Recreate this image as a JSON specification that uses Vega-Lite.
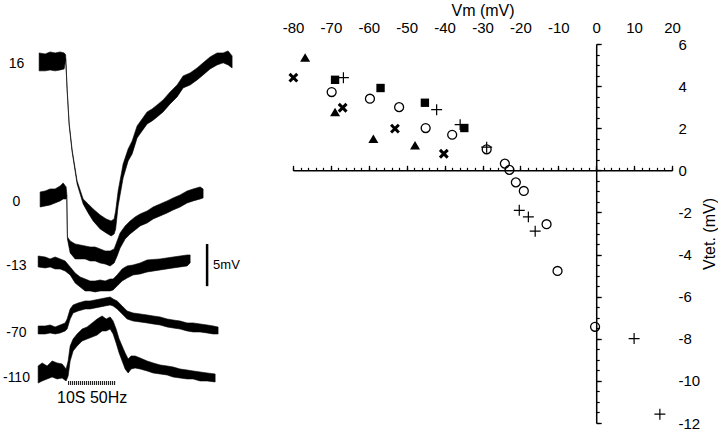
{
"$schema":"https://vega.github.io/schema/vega-lite/v6.json",
"padding":{"left":0,"top":2,"right":0,"bottom":0},
"bounds":"flush",
"spacing":43,
"config":{"view":{"stroke":null},"font":"Liberation Sans","axis":{"grid":false,"domainColor":"black","tickColor":"black","labelColor":"black","titleColor":"black"}},
"datasets":{
"traces":[
{"trace":"16","t":-6.17,"v":41.81,"v2":43.94},{"trace":"16","t":-4.89,"v":41.81,"v2":43.82},{"trace":"16","t":-3.83,"v":41.92,"v2":44.06},{"trace":"16","t":-2.77,"v":41.81,"v2":43.94},{"trace":"16","t":-1.70,"v":41.92,"v2":44.06},{"trace":"16","t":-0.85,"v":42.04,"v2":43.94},{"trace":"16","t":-0.53,"v":43.23,"v2":43.71},{"trace":"16","t":-0.21,"v":39.43,"v2":39.67},{"trace":"16","t":0.21,"v":35.39,"v2":35.63},{"trace":"16","t":0.85,"v":32.19,"v2":32.42},{"trace":"16","t":1.91,"v":28.38,"v2":28.74},{"trace":"16","t":3.19,"v":26.01,"v2":26.60},{"trace":"16","t":4.26,"v":24.94,"v2":26.01},{"trace":"16","t":5.32,"v":23.99,"v2":25.42},{"trace":"16","t":6.81,"v":23.04,"v2":24.70},{"trace":"16","t":8.09,"v":22.57,"v2":24.23},{"trace":"16","t":9.15,"v":22.21,"v2":23.99},{"trace":"16","t":9.79,"v":22.45,"v2":24.23},{"trace":"16","t":10.11,"v":23.04,"v2":25.18},{"trace":"16","t":10.64,"v":25.77,"v2":27.55},{"trace":"16","t":11.70,"v":29.10,"v2":30.76},{"trace":"16","t":12.77,"v":31.12,"v2":32.54},{"trace":"16","t":13.62,"v":31.95,"v2":33.49},{"trace":"16","t":14.68,"v":33.85,"v2":35.27},{"trace":"16","t":15.74,"v":34.68,"v2":36.10},{"trace":"16","t":16.81,"v":35.51,"v2":36.94},{"trace":"16","t":17.87,"v":35.87,"v2":37.29},{"trace":"16","t":18.94,"v":36.34,"v2":37.77},{"trace":"16","t":20.21,"v":36.94,"v2":38.36},{"trace":"16","t":21.70,"v":37.89,"v2":39.31},{"trace":"16","t":23.19,"v":38.72,"v2":40.14},{"trace":"16","t":24.47,"v":39.79,"v2":41.21},{"trace":"16","t":25.96,"v":40.14,"v2":41.57},{"trace":"16","t":27.45,"v":40.74,"v2":42.16},{"trace":"16","t":28.72,"v":41.33,"v2":42.76},{"trace":"16","t":30.21,"v":42.04,"v2":43.47},{"trace":"16","t":31.70,"v":42.52,"v2":43.94},{"trace":"16","t":32.98,"v":42.76,"v2":43.94},{"trace":"16","t":34.04,"v":42.52,"v2":44.18},{"trace":"16","t":34.89,"v":42.16,"v2":43.59},
{"trace":"0","t":-5.96,"v":25.65,"v2":27.43},{"trace":"0","t":-4.89,"v":25.77,"v2":27.55},{"trace":"0","t":-3.83,"v":25.89,"v2":27.79},{"trace":"0","t":-2.77,"v":26.13,"v2":27.79},{"trace":"0","t":-1.70,"v":26.37,"v2":28.15},{"trace":"0","t":-1.06,"v":26.60,"v2":28.50},{"trace":"0","t":-0.43,"v":26.60,"v2":28.03},{"trace":"0","t":-0.30,"v":27.08,"v2":27.32},{"trace":"0","t":-0.15,"v":21.85,"v2":22.09},{"trace":"0","t":0.43,"v":20.19,"v2":21.62},{"trace":"0","t":1.49,"v":19.48,"v2":21.26},{"trace":"0","t":2.55,"v":19.48,"v2":21.14},{"trace":"0","t":3.62,"v":19.48,"v2":21.02},{"trace":"0","t":4.68,"v":19.24,"v2":20.90},{"trace":"0","t":5.74,"v":19.24,"v2":20.90},{"trace":"0","t":6.81,"v":19.00,"v2":20.67},{"trace":"0","t":7.87,"v":18.88,"v2":20.43},{"trace":"0","t":8.94,"v":18.65,"v2":20.43},{"trace":"0","t":9.79,"v":19.00,"v2":20.67},{"trace":"0","t":10.43,"v":19.83,"v2":21.62},{"trace":"0","t":11.06,"v":20.78,"v2":22.57},{"trace":"0","t":12.13,"v":21.85,"v2":23.40},{"trace":"0","t":13.19,"v":22.45,"v2":23.99},{"trace":"0","t":14.26,"v":22.92,"v2":24.47},{"trace":"0","t":15.32,"v":23.40,"v2":24.82},{"trace":"0","t":16.81,"v":23.75,"v2":25.18},{"trace":"0","t":18.09,"v":24.23,"v2":25.65},{"trace":"0","t":19.57,"v":24.58,"v2":26.01},{"trace":"0","t":21.06,"v":24.94,"v2":26.37},{"trace":"0","t":22.34,"v":25.30,"v2":26.72},{"trace":"0","t":23.83,"v":25.65,"v2":27.08},{"trace":"0","t":25.32,"v":26.13,"v2":27.55},{"trace":"0","t":26.60,"v":26.37,"v2":27.79},{"trace":"0","t":28.09,"v":26.60,"v2":28.03},{"trace":"0","t":28.72,"v":26.72,"v2":27.79},
{"trace":"-13","t":-6.38,"v":18.53,"v2":19.83},{"trace":"-13","t":-4.89,"v":18.41,"v2":19.71},{"trace":"-13","t":-3.83,"v":18.53,"v2":19.48},{"trace":"-13","t":-2.77,"v":18.29,"v2":19.71},{"trace":"-13","t":-1.70,"v":18.29,"v2":19.48},{"trace":"-13","t":-0.64,"v":18.05,"v2":19.24},{"trace":"-13","t":0.43,"v":17.58,"v2":18.53},{"trace":"-13","t":1.49,"v":16.63,"v2":17.81},{"trace":"-13","t":2.55,"v":16.15,"v2":17.34},{"trace":"-13","t":3.62,"v":15.68,"v2":17.10},{"trace":"-13","t":4.68,"v":15.68,"v2":16.86},{"trace":"-13","t":5.74,"v":15.56,"v2":16.86},{"trace":"-13","t":6.81,"v":15.68,"v2":16.98},{"trace":"-13","t":7.87,"v":15.68,"v2":16.86},{"trace":"-13","t":8.94,"v":15.68,"v2":17.10},{"trace":"-13","t":9.57,"v":15.80,"v2":17.10},{"trace":"-13","t":10.43,"v":16.27,"v2":17.58},{"trace":"-13","t":11.49,"v":16.86,"v2":18.29},{"trace":"-13","t":12.55,"v":17.22,"v2":18.65},{"trace":"-13","t":13.83,"v":17.58,"v2":18.76},{"trace":"-13","t":15.32,"v":17.70,"v2":19.00},{"trace":"-13","t":16.81,"v":17.93,"v2":19.36},{"trace":"-13","t":19.57,"v":18.17,"v2":19.48},{"trace":"-13","t":22.34,"v":18.41,"v2":19.71},{"trace":"-13","t":25.32,"v":18.65,"v2":19.95},{"trace":"-13","t":25.96,"v":19.00,"v2":19.95},
{"trace":"-70","t":-6.38,"v":10.57,"v2":11.52},{"trace":"-70","t":-4.89,"v":10.57,"v2":11.52},{"trace":"-70","t":-3.83,"v":10.69,"v2":11.64},{"trace":"-70","t":-2.77,"v":10.57,"v2":11.40},{"trace":"-70","t":-1.70,"v":10.69,"v2":11.64},{"trace":"-70","t":-0.64,"v":10.93,"v2":11.88},{"trace":"-70","t":-0.21,"v":11.16,"v2":12.35},{"trace":"-70","t":0.43,"v":12.35,"v2":13.54},{"trace":"-70","t":1.06,"v":13.06,"v2":14.01},{"trace":"-70","t":2.13,"v":13.30,"v2":14.25},{"trace":"-70","t":3.62,"v":13.54,"v2":14.49},{"trace":"-70","t":4.68,"v":13.54,"v2":14.49},{"trace":"-70","t":5.74,"v":13.66,"v2":14.61},{"trace":"-70","t":6.81,"v":13.78,"v2":14.73},{"trace":"-70","t":7.87,"v":13.90,"v2":14.85},{"trace":"-70","t":8.94,"v":14.01,"v2":14.96},{"trace":"-70","t":9.57,"v":13.90,"v2":14.73},{"trace":"-70","t":10.43,"v":13.54,"v2":14.49},{"trace":"-70","t":11.49,"v":12.95,"v2":13.90},{"trace":"-70","t":12.55,"v":12.35,"v2":13.30},{"trace":"-70","t":13.83,"v":12.11,"v2":13.06},{"trace":"-70","t":15.32,"v":12.00,"v2":12.95},{"trace":"-70","t":16.81,"v":11.88,"v2":12.83},{"trace":"-70","t":18.09,"v":11.76,"v2":12.71},{"trace":"-70","t":19.57,"v":11.64,"v2":12.59},{"trace":"-70","t":21.06,"v":11.40,"v2":12.35},{"trace":"-70","t":22.34,"v":11.28,"v2":12.23},{"trace":"-70","t":23.83,"v":11.16,"v2":12.11},{"trace":"-70","t":25.32,"v":10.93,"v2":11.88},{"trace":"-70","t":26.60,"v":10.81,"v2":11.88},{"trace":"-70","t":28.09,"v":10.81,"v2":11.76},{"trace":"-70","t":29.57,"v":10.69,"v2":11.64},{"trace":"-70","t":30.85,"v":10.57,"v2":11.52},{"trace":"-70","t":31.91,"v":10.57,"v2":11.40},
{"trace":"-110","t":-6.38,"v":4.75,"v2":6.77},{"trace":"-110","t":-5.53,"v":4.99,"v2":7.13},{"trace":"-110","t":-4.47,"v":5.23,"v2":6.77},{"trace":"-110","t":-3.40,"v":5.46,"v2":7.36},{"trace":"-110","t":-2.34,"v":5.23,"v2":7.13},{"trace":"-110","t":-1.28,"v":5.34,"v2":7.01},{"trace":"-110","t":-0.43,"v":4.99,"v2":6.41},{"trace":"-110","t":0,"v":5.58,"v2":7.36},{"trace":"-110","t":0.43,"v":7.36,"v2":9.14},{"trace":"-110","t":1.06,"v":8.55,"v2":9.98},{"trace":"-110","t":1.91,"v":9.14,"v2":10.57},{"trace":"-110","t":2.98,"v":9.74,"v2":11.16},{"trace":"-110","t":4.04,"v":9.98,"v2":11.40},{"trace":"-110","t":5.11,"v":10.21,"v2":11.88},{"trace":"-110","t":6.17,"v":10.45,"v2":12.35},{"trace":"-110","t":7.23,"v":10.93,"v2":12.71},{"trace":"-110","t":8.09,"v":10.93,"v2":12.35},{"trace":"-110","t":8.94,"v":11.16,"v2":12.59},{"trace":"-110","t":9.57,"v":10.57,"v2":12.11},{"trace":"-110","t":10.21,"v":9.50,"v2":11.16},{"trace":"-110","t":10.85,"v":8.31,"v2":9.98},{"trace":"-110","t":11.49,"v":7.36,"v2":9.14},{"trace":"-110","t":12.13,"v":6.41,"v2":8.31},{"trace":"-110","t":12.77,"v":5.94,"v2":7.60},{"trace":"-110","t":13.40,"v":6.41,"v2":7.96},{"trace":"-110","t":14.26,"v":6.53,"v2":7.96},{"trace":"-110","t":15.32,"v":6.41,"v2":7.72},{"trace":"-110","t":16.81,"v":6.18,"v2":7.36},{"trace":"-110","t":18.09,"v":5.94,"v2":7.13},{"trace":"-110","t":19.57,"v":5.82,"v2":6.89},{"trace":"-110","t":21.06,"v":5.70,"v2":6.77},{"trace":"-110","t":22.34,"v":5.46,"v2":6.65},{"trace":"-110","t":23.83,"v":5.34,"v2":6.41},{"trace":"-110","t":25.32,"v":5.23,"v2":6.29},{"trace":"-110","t":26.60,"v":5.23,"v2":6.18},{"trace":"-110","t":28.09,"v":4.99,"v2":6.06},{"trace":"-110","t":29.57,"v":4.99,"v2":5.94},{"trace":"-110","t":31.28,"v":4.87,"v2":5.82}
],
"tlabels":[{"label":"16","t":-11,"v":42.64},{"label":"0","t":-11,"v":26.25},{"label":"-13","t":-11,"v":18.65},{"label":"-70","t":-11,"v":10.69},{"label":"-110","t":-11,"v":5.34}],
"stim":[{"t":0,"t2":10,"v":4.75}],
"stimtext":[{"text":"10S  50Hz","t":5.1,"v":2.97}],
"scalebar":[{"t":29.57,"v":16.25,"v2":21.25,"text":"5mV","tt":30.85,"tv":18.76}],
"pts":[
{"series":"tri","vm":-76.8,"vtet":5.36},{"series":"tri","vm":-68.9,"vtet":2.77},{"series":"tri","vm":-58.8,"vtet":1.5},{"series":"tri","vm":-47.8,"vtet":1.19},
{"series":"x","vm":-79.9,"vtet":4.4},{"series":"x","vm":-66.9,"vtet":2.97},{"series":"x","vm":-53.1,"vtet":1.98},{"series":"x","vm":-40.2,"vtet":0.79},
{"series":"sq","vm":-68.9,"vtet":4.3},{"series":"sq","vm":-56.9,"vtet":3.91},{"series":"sq","vm":-45.2,"vtet":3.21},{"series":"sq","vm":-34.8,"vtet":2.01},
{"series":"plus","vm":-66.7,"vtet":4.4},{"series":"plus","vm":-42.1,"vtet":2.88},{"series":"plus","vm":-35.9,"vtet":2.17},{"series":"plus","vm":-28.9,"vtet":1.1},{"series":"plus","vm":-20.3,"vtet":-1.9},{"series":"plus","vm":-17.9,"vtet":-2.21},{"series":"plus","vm":-16.1,"vtet":-2.89},{"series":"plus","vm":10,"vtet":-7.99},{"series":"plus","vm":16.8,"vtet":-11.58},
{"series":"circ","vm":-69.8,"vtet":3.72},{"series":"circ","vm":-59.7,"vtet":3.4},{"series":"circ","vm":-52,"vtet":3},{"series":"circ","vm":-45,"vtet":2.01},{"series":"circ","vm":-38,"vtet":1.69},{"series":"circ","vm":-28.9,"vtet":1},{"series":"circ","vm":-24.1,"vtet":0.32},{"series":"circ","vm":-22.9,"vtet":0.02},{"series":"circ","vm":-21.2,"vtet":-0.57},{"series":"circ","vm":-19.1,"vtet":-0.98},{"series":"circ","vm":-13.1,"vtet":-2.56},{"series":"circ","vm":-10.2,"vtet":-4.78},{"series":"circ","vm":-0.3,"vtet":-7.43}
]
},
"hconcat":[
{
"width":250,"height":379,
"encoding":{
"x":{"field":"t","type":"quantitative","scale":{"domain":[-14.5,38.7],"nice":false,"zero":false},"axis":null},
"y":{"field":"v","type":"quantitative","scale":{"domain":[0,45],"nice":false,"zero":false},"axis":null}
},
"layer":[
{"data":{"name":"traces"},"mark":{"type":"area","fill":"black","stroke":"black","strokeWidth":0.6,"opacity":1},
"encoding":{"y":{"field":"v","type":"quantitative","stack":null,"scale":{"domain":[0,45],"nice":false,"zero":false},"axis":null},"y2":{"field":"v2"},"detail":{"field":"trace"}}},
{"data":{"name":"tlabels"},"mark":{"type":"text","fontSize":14,"align":"center","baseline":"middle","color":"black"},"encoding":{"text":{"field":"label"}}},
{"data":{"name":"stim"},"mark":{"type":"rule","strokeWidth":4,"strokeDash":[1,1],"color":"black"},"encoding":{"x2":{"field":"t2"}}},
{"data":{"name":"stimtext"},"mark":{"type":"text","fontSize":16,"align":"center","baseline":"middle","color":"black"},"encoding":{"text":{"field":"text"}}},
{"data":{"name":"scalebar"},"mark":{"type":"rule","strokeWidth":2.5,"color":"black"},"encoding":{"y2":{"field":"v2"}}},
{"data":{"name":"scalebar"},"mark":{"type":"text","fontSize":13,"align":"left","baseline":"middle","color":"black"},"encoding":{"x":{"field":"tt","type":"quantitative"},"y":{"field":"tv","type":"quantitative"},"text":{"field":"text"}}}
]
},
{
"width":379,"height":379,
"data":{"name":"pts"},
"resolve":{"axis":{"x":"independent","y":"independent"}},
"encoding":{
"x":{"field":"vm","type":"quantitative","scale":{"domain":[-80,20],"nice":false,"zero":false},"axis":null},
"y":{"field":"vtet","type":"quantitative","scale":{"domain":[-12,6],"nice":false,"zero":false},"axis":null}
},
"layer":[
{"mark":{"type":"point","opacity":0},
"encoding":{
"x":{"field":"vm","type":"quantitative","scale":{"domain":[-80,20],"nice":false,"zero":false},"axis":{"orient":"top","values":[-80,-70,-60,-50,-40,-30,-20,-10,0,10,20],"domain":false,"ticks":false,"labelExpr":"'' + datum.value","labelFontSize":15,"labelPadding":9,"labelFlush":false,"labelOverlap":false,"title":"Vm (mV)","titleFontSize":16,"titleFontWeight":"normal","titlePadding":2}},
"y":{"field":"vtet","type":"quantitative","scale":{"domain":[-12,6],"nice":false,"zero":false},"axis":{"orient":"right","values":[-12,-10,-8,-6,-4,-2,0,2,4,6],"domain":false,"ticks":false,"labelExpr":"'' + datum.value","labelFontSize":15,"labelPadding":6,"labelFlush":false,"labelOverlap":false,"title":"Vtet. (mV)","titleAngle":270,"titleFontSize":16,"titleFontWeight":"normal","titlePadding":18}}
}},
{"mark":{"type":"point","opacity":0},
"encoding":{
"x":{"field":"vm","type":"quantitative","scale":{"domain":[-80,20],"nice":false,"zero":false},"axis":{"orient":"top","offset":-126.33,"values":[-80,-70,-60,-50,-40,-30,-20,-10,0,10,20],"labels":false,"domain":true,"domainWidth":1.5,"ticks":true,"tickSize":5,"tickWidth":1.3,"title":null}},
"y":{"field":"vtet","type":"quantitative","scale":{"domain":[-12,6],"nice":false,"zero":false},"axis":{"orient":"right","offset":-75.8,"values":[-12,-10,-8,-6,-4,-2,0,2,4,6],"labels":false,"domain":true,"domainWidth":1.5,"ticks":true,"tickSize":5,"tickWidth":1.3,"title":null}}
}},
{"mark":{"type":"point","opacity":0},
"encoding":{
"x":{"field":"vm","type":"quantitative","scale":{"domain":[-80,20],"nice":false,"zero":false},"axis":{"orient":"top","offset":-126.33,"values":[-80,-78,-76,-74,-72,-70,-68,-66,-64,-62,-60,-58,-56,-54,-52,-50,-48,-46,-44,-42,-40,-38,-36,-34,-32,-30,-28,-26,-24,-22,-20,-18,-16,-14,-12,-10,-8,-6,-4,-2,0,2,4,6,8,10,12,14,16,18,20],"labels":false,"domain":false,"ticks":true,"tickSize":3,"tickWidth":1.2,"title":null}},
"y":{"field":"vtet","type":"quantitative","scale":{"domain":[-12,6],"nice":false,"zero":false},"axis":{"orient":"right","offset":-75.8,"values":[-12,-11.5,-11,-10.5,-10,-9.5,-9,-8.5,-8,-7.5,-7,-6.5,-6,-5.5,-5,-4.5,-4,-3.5,-3,-2.5,-2,-1.5,-1,-0.5,0,0.5,1,1.5,2,2.5,3,3.5,4,4.5,5,5.5,6],"labels":false,"domain":false,"ticks":true,"tickSize":3,"tickWidth":1.2,"title":null}}
}},
{"transform":[{"filter":"datum.series === 'tri'"}],"mark":{"type":"point","shape":"triangle-up","filled":true,"color":"black","size":100,"opacity":1}},
{"transform":[{"filter":"datum.series === 'x'"}],"mark":{"type":"point","shape":"M-1,-1L1,1M-1,1L1,-1","filled":false,"color":"black","strokeWidth":3,"size":60,"opacity":1}},
{"transform":[{"filter":"datum.series === 'sq'"}],"mark":{"type":"point","shape":"square","filled":true,"color":"black","size":70,"opacity":1}},
{"transform":[{"filter":"datum.series === 'circ'"}],"mark":{"type":"point","shape":"circle","filled":false,"color":"black","size":80,"strokeWidth":1.3,"opacity":1}},
{"transform":[{"filter":"datum.series === 'plus'"}],"mark":{"type":"point","shape":"M-1,0L1,0M0,-1L0,1","filled":false,"color":"black","size":120,"strokeWidth":1.2,"opacity":1}}
]
}
]
}
